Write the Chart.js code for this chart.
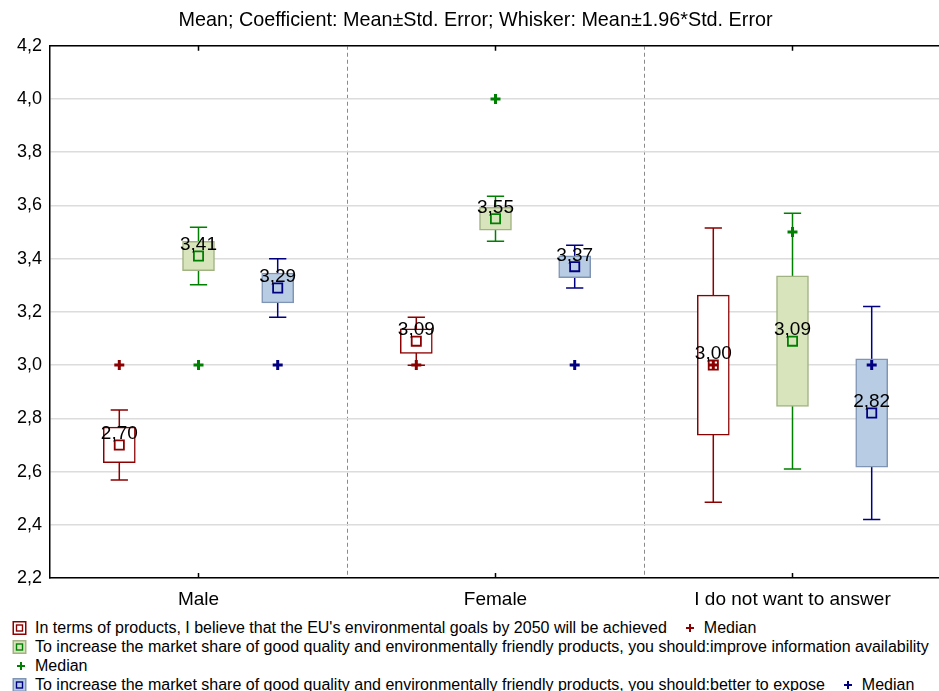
<!DOCTYPE html>
<html>
<head>
<meta charset="utf-8">
<script src="https://cdn.jsdelivr.net/npm/chart.js@4.4.1/dist/chart.umd.min.js"></script>
<style>
html, body { margin: 0; padding: 0; background: #fff; overflow: hidden; }
#wrap { position: relative; width: 939px; height: 691px; overflow: hidden; }
#chartBox { position: absolute; left: 0; top: 0; width: 951px; height: 612px; }
#legend { position: absolute; left: 8px; top: 618px; font-family: "Liberation Sans", Arial, sans-serif; font-size: 16px; color: #000; }
.row { display: flex; align-items: center; height: 19px; white-space: nowrap; }
.item { display: flex; align-items: center; margin-right: 10px; }
.icon { width: 22px; height: 14px; margin-right: 5px; display: block; }
</style>
</head>
<body>
<div id="wrap">
  <div id="chartBox"><canvas id="boxChart"></canvas></div>
  <div id="legend"></div>
</div>
<script>
// categories and series
const categories = ['Male', 'Female', 'I do not want to answer'];
const seriesNames = [
  "In terms of products, I believe that the EU's environmental goals by 2050 will be achieved",
  'To increase the market share of good quality and environmentally friendly products, you should:improve information availability',
  'To increase the market share of good quality and environmentally friendly products, you should:better to expose'
];

// mean, std. error and median
const meanGoals = [2.70, 3.09, 3.00];
const seGoals = [0.067, 0.046, 0.263];
const medianGoals = [3.0, 3.0, 3.0];

const meanInfo = [3.41, 3.55, 3.09];
const seInfo = [0.055, 0.043, 0.245];
const medianInfo = [3.0, 4.0, 3.5];

const meanExpose = [3.29, 3.37, 2.82];
const seExpose = [0.056, 0.041, 0.204];
const medianExpose = [3.0, 3.0, 3.0];

const yTicks = [2.2, 2.4, 2.6, 2.8, 3.0, 3.2, 3.4, 3.6, 3.8, 4.0, 4.2];

const series = [
  { name: seriesNames[0], mean: meanGoals, se: seGoals, median: medianGoals, line: '#8b0000', fill: '#ffffff', edge: '#8b0000' },
  { name: seriesNames[1], mean: meanInfo, se: seInfo, median: medianInfo, line: '#008000', fill: '#d8e4bc', edge: '#a2b383' },
  { name: seriesNames[2], mean: meanExpose, se: seExpose, median: medianExpose, line: '#000080', fill: '#b8cce4', edge: '#7f95b3' }
];

const comma = (v, n) => v.toFixed(n).replace('.', ',');
// each group takes 80% of a category, split between the three series
const groupStep = 0.8 / series.length;
const slotX = (i, d) => i + (d - 1) * groupStep;

// x ticks at category centres (labels) and category borders (dashed lines)
const xTicks = [];
categories.forEach((c, i) => { xTicks.push(i - 0.5, i); });
xTicks.push(categories.length - 0.5);

const datasets = [];
// boxes: mean +- std. error
series.forEach((s, d) => {
  datasets.push({
    type: 'bar',
    label: s.name,
    data: s.mean.map((m, i) => ({ x: slotX(i, d), y: [m - s.se[i], m + s.se[i]] })),
    backgroundColor: s.fill,
    borderColor: s.edge,
    borderWidth: 1.5,
    borderSkipped: false,
    grouped: false,
    barThickness: 32,
    order: 3
  });
});
// mean markers
series.forEach((s, d) => {
  datasets.push({
    type: 'scatter',
    label: 'Mean',
    data: s.mean.map((m, i) => ({ x: slotX(i, d), y: m })),
    pointStyle: 'rect',
    pointRadius: 6.5,
    borderWidth: 1.8,
    borderColor: s.line,
    backgroundColor: 'transparent',
    order: 1
  });
});
// median markers
series.forEach((s, d) => {
  datasets.push({
    type: 'scatter',
    label: 'Median',
    data: s.median.map((m, i) => ({ x: slotX(i, d), y: m })),
    pointStyle: 'cross',
    pointRadius: 5,
    borderWidth: 3,
    borderColor: s.line,
    order: 0
  });
});

// whiskers (mean +- 1.96*se), frame and mean labels
const whiskerPlugin = {
  id: 'whiskers',
  beforeDatasetsDraw(chart) {
    const ctx = chart.ctx;
    const yScale = chart.scales.y;
    series.forEach((s, d) => {
      chart.getDatasetMeta(d).data.forEach((bar, i) => {
        const lo = yScale.getPixelForValue(s.mean[i] - 1.96 * s.se[i]);
        const hi = yScale.getPixelForValue(s.mean[i] + 1.96 * s.se[i]);
        const half = bar.width * 0.27;
        ctx.save();
        ctx.strokeStyle = s.line;
        ctx.lineWidth = 1.5;
        ctx.beginPath();
        ctx.moveTo(bar.x, lo); ctx.lineTo(bar.x, hi);
        ctx.moveTo(bar.x - half, lo); ctx.lineTo(bar.x + half, lo);
        ctx.moveTo(bar.x - half, hi); ctx.lineTo(bar.x + half, hi);
        ctx.stroke();
        ctx.restore();
      });
    });
  },
  afterDatasetsDraw(chart) {
    const ctx = chart.ctx;
    const yScale = chart.scales.y;
    const xScale = chart.scales.x;
    const area = chart.chartArea;
    ctx.save();
    ctx.strokeStyle = '#000';
    ctx.lineWidth = 1.5;
    ctx.beginPath();
    ctx.moveTo(area.left, area.top); ctx.lineTo(area.right, area.top);
    categories.forEach((c, i) => {
      const x = xScale.getPixelForValue(i);
      ctx.moveTo(x, area.top); ctx.lineTo(x, area.top + 5);
      ctx.moveTo(x, area.bottom); ctx.lineTo(x, area.bottom - 5);
    });
    ctx.stroke();
    ctx.fillStyle = '#000';
    ctx.font = '19px "Liberation Sans", Arial, sans-serif';
    ctx.textAlign = 'center';
    ctx.textBaseline = 'middle';
    series.forEach((s, d) => {
      chart.getDatasetMeta(d).data.forEach((bar, i) => {
        ctx.fillText(comma(s.mean[i], 2), bar.x, yScale.getPixelForValue(s.mean[i]) - 11);
      });
    });
    ctx.restore();
  }
};

Chart.defaults.font.family = '"Liberation Sans", Arial, sans-serif';
Chart.defaults.color = '#000';

const ctx = document.getElementById('boxChart').getContext('2d');
const boxChart = new Chart(ctx, {
  type: 'bar',
  data: { datasets: datasets },
  options: {
    responsive: true,
    maintainAspectRatio: false,
    animation: false,
    layout: { padding: 0 },
    plugins: {
      legend: { display: false },
      tooltip: { enabled: false },
      title: {
        display: true,
        text: 'Mean; Coefficient: Mean\u00b1Std. Error; Whisker: Mean\u00b11.96*Std. Error',
        font: { size: 19.8, weight: 'normal' },
        color: '#000',
        padding: { top: 9, bottom: 13 }
      }
    },
    scales: {
      x: {
        type: 'linear',
        min: -0.5,
        max: categories.length - 0.5,
        offset: false,
        afterBuildTicks: (s) => { s.ticks = xTicks.map(v => ({ value: v })); },
        grid: {
          offset: false,
          drawTicks: false,
          lineWidth: 1,
          color: (c) => (c.tick && c.tick.value > -0.5 && c.tick.value < categories.length - 0.5 && !Number.isInteger(c.tick.value)) ? '#8a8a8a' : 'transparent'
        },
        border: { display: true, color: '#000', width: 1.5, dash: [4, 3] },
        ticks: {
          font: { size: 19 },
          color: '#000',
          padding: 10,
          autoSkip: false,
          maxRotation: 0,
          callback: (v) => Number.isInteger(v) ? categories[v] : ''
        },
        afterFit: (s) => { s.height = 34; }
      },
      y: {
        min: 2.2,
        max: 4.2,
        afterBuildTicks: (s) => { s.ticks = yTicks.map(v => ({ value: v })); },
        ticks: { font: { size: 18 }, color: '#000', padding: 8, callback: (v) => comma(v, 1) },
        grid: { color: '#dcdcdc', lineWidth: 1.5, drawTicks: false },
        border: { color: '#000', width: 1.5 },
        afterFit: (s) => { s.width = 50; }
      }
    }
  },
  plugins: [whiskerPlugin]
});

// legend, laid out in the same rows as the original
function boxIcon(s) {
  return '<svg class="icon" viewBox="0 0 22 14"><rect x="5.25" y="0.75" width="12.5" height="12.5" fill="' + s.fill +
    '" stroke="' + s.edge + '" stroke-width="1.5"/><rect x="8.5" y="4" width="6" height="6" fill="none" stroke="' + s.line + '" stroke-width="1.4"/></svg>';
}
function crossIcon(s) {
  return '<svg class="icon" viewBox="0 0 22 14"><path d="M9 7H17M13 3V11" stroke="' + s.line + '" stroke-width="2"/></svg>';
}
function item(icon, text) {
  return '<div class="item">' + icon + '<span>' + text + '</span></div>';
}
const rows = [
  [item(boxIcon(series[0]), series[0].name), item(crossIcon(series[0]), 'Median')],
  [item(boxIcon(series[1]), series[1].name)],
  [item(crossIcon(series[1]), 'Median')],
  [item(boxIcon(series[2]), series[2].name), item(crossIcon(series[2]), 'Median')]
];
document.getElementById('legend').innerHTML = rows.map(r => '<div class="row">' + r.join('') + '</div>').join('');
</script>
</body>
</html>
